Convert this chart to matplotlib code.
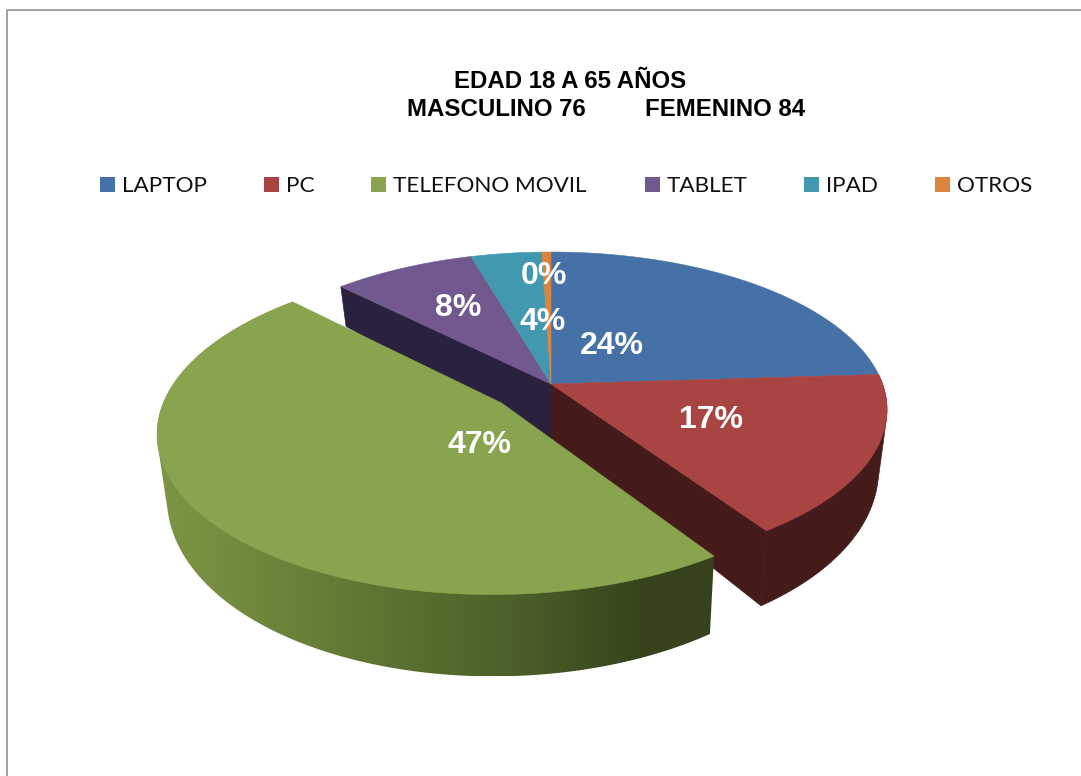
import numpy as np
import matplotlib
matplotlib.use("Agg")
import matplotlib.pyplot as plt
from matplotlib.patches import Polygon, Rectangle
from matplotlib.colors import LinearSegmentedColormap

categories = ["LAPTOP", "PC", "TELEFONO MOVIL", "TABLET", "IPAD", "OTROS"]
values = [24, 16.5, 47, 8, 4, 0.5]
pct_labels = ["24%", "17%", "47%", "8%", "4%", "0%"]
colors = ["#4571a7", "#a84543", "#89a44e", "#71588f", "#4198af", "#db843d"]
wall_colors = ["#2a4060", "#451b19", "#4a5c25", "#2a213e", "#24505e", "#7a4820"]
legend_x = [100, 264, 371, 645, 804, 935]
label_pos = [(612, 346), (711, 420), (480, 445), (458, 308), (543, 322), (544, 276)]

W, H = 1081, 776
CX, CY = 551, 384
A, B, K = 331.5, 153.5, 0.163
A2 = A * 0.975
DEPTH0, DEPTH_SLOPE = 56, 23
EXPLODE = {2: 0.19}

fig = plt.figure(figsize=(W / 100, H / 100), dpi=100, facecolor="white")
ax = fig.add_axes([0, 0, 1, 1])
ax.axis("off")

def top(X, Y):
    w = 1 + K * Y
    return np.c_[CX + A * X / w, CY - B * Y / w]

def bot(X, Y):
    w = 1 + K * Y
    d = DEPTH0 - DEPTH_SLOPE * Y
    return np.c_[CX + A2 * X / w, CY - B * Y / w + d]

def hull(points):
    pts = sorted(set(map(tuple, np.round(points, 3))))
    def half(seq):
        out = []
        for p in seq:
            while len(out) >= 2 and ((out[-1][0] - out[-2][0]) * (p[1] - out[-2][1])
                                     - (out[-1][1] - out[-2][1]) * (p[0] - out[-2][0])) <= 0:
                out.pop()
            out.append(p)
        return out[:-1]
    return np.array(half(pts) + half(pts[::-1]))

vals = np.asarray(values, float)
cum = np.r_[0, np.cumsum(vals)] / vals.sum() * 2 * np.pi

def wedge(i, n=200):
    th = np.linspace(cum[i], cum[i + 1], n)
    d = EXPLODE.get(i, 0.0)
    mid = (cum[i] + cum[i + 1]) / 2
    return th, d * np.sin(mid), d * np.cos(mid)

def draw_radial(i, edge):
    th, ox, oy = wedge(i)
    t = th[edge]
    X = np.array([ox, ox + np.sin(t)])
    Y = np.array([oy, oy + np.cos(t)])
    p = np.r_[top(X, Y), bot(X, Y)[::-1]]
    ax.add_patch(Polygon(p, fc=wall_colors[i], ec=wall_colors[i], lw=0.5, zorder=2))

def wall_polygon(i):
    th, ox, oy = wedge(i)
    X, Y = ox + np.sin(th), oy + np.cos(th)
    return hull(np.r_[top(X, Y), bot(X, Y)])

def draw_wall(i):
    p = wall_polygon(i)
    ax.add_patch(Polygon(p, fc=wall_colors[i], ec=wall_colors[i], lw=0.5, zorder=2))

def draw_gradient_wall(i):
    p = wall_polygon(i)
    x0, x1 = p[:, 0].min(), p[:, 0].max()
    y0, y1 = p[:, 1].min(), p[:, 1].max()
    stops = [(0.0, "#7c9644"), (0.18, "#6f873c"), (0.38, "#5e7633"),
             (0.66, "#4a5d28"), (0.87, "#37441c"), (1.0, "#36421b")]
    cm = LinearSegmentedColormap.from_list("g", stops)
    grad = np.linspace(0, 1, 600)[None, :]
    im = ax.imshow(grad, cmap=cm, extent=(x0, x1, y1, y0), aspect="auto", zorder=2,
                   vmin=0, vmax=1, interpolation="bilinear")
    clip = Polygon(p, transform=ax.transData, fc="none", ec="none")
    ax.add_patch(clip)
    im.set_clip_path(clip)

def draw_top(i):
    th, ox, oy = wedge(i)
    X = np.r_[ox, ox + np.sin(th)]
    Y = np.r_[oy, oy + np.cos(th)]
    ax.add_patch(Polygon(top(X, Y), fc=colors[i], ec=colors[i], lw=0.4, zorder=4))

# chart frame
ax.plot([7, 7, 1081], [776, 10, 10], color="#999999", lw=1.3, zorder=1)

# solid body: walls that show, back to front
draw_radial(3, 0)
draw_radial(1, -1)
draw_wall(1)
draw_gradient_wall(2)
for i in range(len(values)):
    draw_top(i)

# labels
for (x, y), s in zip(label_pos, pct_labels):
    ax.text(x, y, s, color="white", fontsize=23, fontweight="bold",
            family="Liberation Sans", ha="center", va="center", zorder=6)

# title
ax.text(570, 81, "EDAD 18 A 65 AÑOS", fontsize=17.3, fontweight="bold",
        family="Liberation Sans", ha="center", va="center", color="black")
ax.text(407, 110, "MASCULINO 76", fontsize=17.3, fontweight="bold",
        family="Liberation Sans", ha="left", va="center", color="black")
ax.text(805, 110, "FEMENINO 84", fontsize=17.3, fontweight="bold",
        family="Liberation Sans", ha="right", va="center", color="black")

# legend
for x, c, s in zip(legend_x, colors, categories):
    ax.add_patch(Rectangle((x, 177), 15, 15, fc=c, ec="none"))
    ax.text(x + 22, 185.5, s, fontsize=16.2, family="Lato", ha="left", va="center", color="#111111")

ax.set_xlim(0, W)
ax.set_ylim(H, 0)
fig.savefig("out.png", dpi=100)
